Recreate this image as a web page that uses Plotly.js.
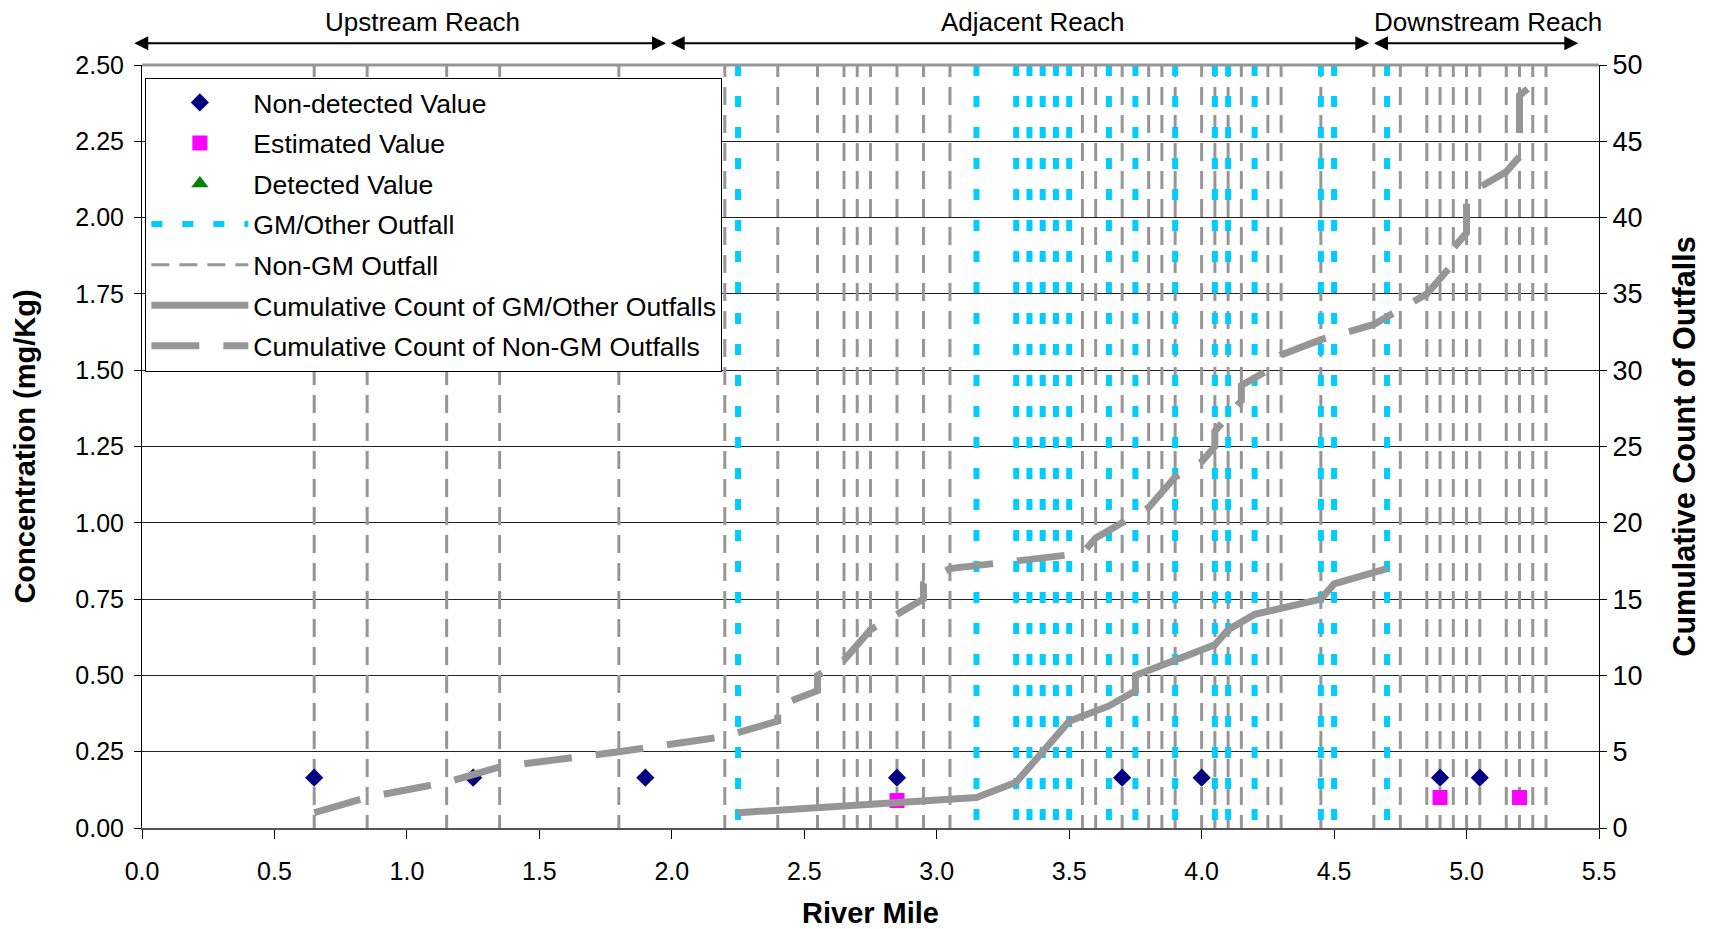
<!DOCTYPE html>
<html>
<head>
<meta charset="utf-8">
<script src="https://cdn.plot.ly/plotly-3.0.1.min.js"></script>
<style>html,body{margin:0;padding:0;background:#fff;}#chart{width:1709px;height:929px;}</style>
</head>
<body>
<div id="chart"></div>
<script>
// ---------------- data ----------------
const nonGmOutfallMiles = [0.65, 0.85, 1.15, 1.35, 1.80, 2.20, 2.40, 2.55, 2.65, 2.70, 2.75, 2.85, 2.95, 3.05,
  3.55, 3.60, 3.70, 3.80, 3.85, 3.90, 4.00, 4.05, 4.10, 4.15, 4.25, 4.30, 4.45, 4.65, 4.75, 4.85, 4.90,
  4.95, 5.00, 5.05, 5.15, 5.20, 5.25, 5.30];
const gmOutfallMiles = [2.25, 3.15, 3.30, 3.35, 3.40, 3.45, 3.50, 3.65, 3.75, 3.90, 4.05, 4.10, 4.20,
  4.45, 4.50, 4.70];

const nonDetectMiles = [0.65, 1.25, 1.90, 2.85, 3.70, 4.00, 4.90, 5.05];
const nonDetectConc = [0.165, 0.165, 0.165, 0.165, 0.165, 0.165, 0.165, 0.165];
const estimatedMiles = [2.85, 4.90, 5.20];
const estimatedConc = [0.09, 0.10, 0.10];
const detectedMiles = [];
const detectedConc = [];

const cumGmMiles = [2.25, 3.15, 3.30, 3.35, 3.40, 3.45, 3.50, 3.65, 3.75, 3.75, 3.90, 4.05, 4.10, 4.20, 4.45, 4.50, 4.70];
const cumGmCount = [1, 2, 3, 4, 5, 6, 7, 8, 9, 10, 11, 12, 13, 14, 15, 16, 17];

const cumNonGmMiles = [0.65, 0.85, 1.15, 1.35, 1.80, 2.20, 2.40, 2.40, 2.55, 2.55, 2.65, 2.70, 2.75, 2.85,
  2.95, 2.95, 3.05, 3.55, 3.60, 3.70, 3.80, 3.85, 3.90, 4.00, 4.05, 4.05, 4.10, 4.15, 4.15, 4.25, 4.30,
  4.45, 4.65, 4.75, 4.85, 4.90, 4.95, 4.95, 5.00, 5.00, 5.00, 5.05, 5.15, 5.20, 5.20, 5.20, 5.20, 5.20, 5.27];
const cumNonGmCount = [1, 2, 3, 4, 5, 6, 7, 8, 9, 10, 11, 12, 13, 14, 15, 16, 17, 18, 19, 20, 21, 22, 23, 24,
  25, 26, 27, 28, 29, 30, 31, 32, 33, 34, 35, 36, 37, 38, 39, 40, 41, 42, 43, 44, 45, 46, 47, 48, 49];

const reachNames = ["Upstream Reach", "Adjacent Reach", "Downstream Reach"];
const reachStart = [-0.035, 1.99, 4.645];
const reachEnd = [1.978, 4.633, 5.422];
const reachLabelAt = [1.06, 3.365, 5.082];

const xTickVals = [0, 0.5, 1, 1.5, 2, 2.5, 3, 3.5, 4, 4.5, 5, 5.5];

// ---------------- build ----------------
const FONT = "Liberation Sans, Arial, Helvetica, sans-serif";
const GRAY = "rgb(150,150,150)";
const CYAN = "rgb(0,204,255)";

function verticals(xs, lo, hi) {
  const x = [], y = [];
  xs.forEach(v => { x.push(v, v, null); y.push(hi, lo, null); });
  return {x, y};
}
const ng = verticals(nonGmOutfallMiles, -0.05, 2.52);
const gm = verticals(gmOutfallMiles, -0.05, 2.5);

const traces = [
  {type: "scatter", mode: "lines", name: "Non-GM Outfall", x: ng.x, y: ng.y,
   line: {color: GRAY, width: 3, dash: "18px,10px"}, legendrank: 5, legendgroup: "g5"},
  {type: "scatter", mode: "lines", name: "GM/Other Outfall", x: gm.x, y: gm.y,
   line: {color: CYAN, width: 6, dash: "11px,20px"}, legendrank: 4, legendgroup: "g4"},
  {type: "scatter", mode: "markers", name: "Non-detected Value", x: nonDetectMiles, y: nonDetectConc,
   marker: {symbol: "diamond", size: 14, color: "rgb(0,0,128)"}, legendrank: 1, legendgroup: "g1"},
  {type: "scatter", mode: "markers", name: "Estimated Value", x: estimatedMiles, y: estimatedConc,
   marker: {symbol: "square", size: 15, color: "rgb(255,0,255)"}, legendrank: 2, legendgroup: "g2"},
  {type: "scatter", mode: "markers", name: "Detected Value",
   x: detectedMiles.length ? detectedMiles : [null], y: detectedConc.length ? detectedConc : [null],
   marker: {symbol: "triangle-up", size: 15, color: "rgb(0,128,0)"}, legendrank: 3, legendgroup: "g3"},
  {type: "scatter", mode: "lines", name: "Cumulative Count of GM/Other Outfalls", x: cumGmMiles, y: cumGmCount,
   yaxis: "y2", line: {color: GRAY, width: 7}, legendrank: 6, legendgroup: "g6"},
  {type: "scatter", mode: "lines", name: "Cumulative Count of Non-GM Outfalls", x: cumNonGmMiles, y: cumNonGmCount,
   yaxis: "y2", line: {color: GRAY, width: 7, dash: "48px,24px"}, legendrank: 7, legendgroup: "g7"}
];

const annotations = [];
reachNames.forEach((name, i) => {
  annotations.push({
    xref: "x", yref: "paper", x: reachEnd[i], y: 1.0286,
    axref: "x", ayref: "pixel", ax: reachStart[i], ay: 0,
    text: "", showarrow: true, arrowside: "end+start",
    arrowhead: 2, startarrowhead: 2, arrowsize: 1.4, startarrowsize: 1.4,
    arrowwidth: 2, arrowcolor: "#000", standoff: 0, startstandoff: 0
  });
  annotations.push({
    xref: "x", yref: "paper", x: reachLabelAt[i], y: 1.057, yanchor: "middle", xanchor: "center",
    text: name, showarrow: false, font: {family: FONT, size: 26, color: "#000"}
  });
});

const layout = {
  width: 1709, height: 929,
  margin: {l: 142, r: 110, t: 65, b: 101},
  paper_bgcolor: "#fff", plot_bgcolor: "#fff",
  font: {family: FONT, color: "#000", size: 25},
  showlegend: true,
  legend: {
    x: 0.0023, y: 0.9835, xanchor: "left", yanchor: "top",
    bgcolor: "#fff", bordercolor: "#000", borderwidth: 1,
    font: {family: FONT, size: 26.6, color: "#000"},
    traceorder: "grouped", tracegroupgap: 3, itemwidth: 97
  },
  xaxis: {
    range: [0, 5.5], tickvals: xTickVals, tickformat: ".1f",
    ticks: "outside", ticklen: 9, tickwidth: 1, tickcolor: "#000", ticklabelstandoff: 11,
    showline: true, linecolor: "#555", linewidth: 2, mirror: false,
    showgrid: false, zeroline: false,
    tickfont: {family: FONT, size: 25, color: "#000"},
    title: {text: "<b>River Mile</b>", font: {family: FONT, size: 29, color: "#000"}, standoff: 20}
  },
  yaxis: {
    range: [0, 2.5], dtick: 0.25, tick0: 0, tickformat: ".2f",
    ticks: "outside", ticklen: 7, tickwidth: 1, tickcolor: "#000", ticklabelstandoff: 5,
    showline: true, linecolor: "#000", linewidth: 1,
    showgrid: true, gridcolor: "#222", gridwidth: 1, zeroline: false,
    tickfont: {family: FONT, size: 25, color: "#000"},
    title: {text: "<b>Concentration (mg/Kg)</b>", font: {family: FONT, size: 29, color: "#000"}, standoff: 31}
  },
  yaxis2: {
    range: [0, 50], dtick: 5, tick0: 0, overlaying: "y", side: "right",
    ticks: "outside", ticklen: 7, tickwidth: 1, tickcolor: "#000",
    showline: true, linecolor: "#000", linewidth: 1,
    showgrid: false, zeroline: false,
    tickfont: {family: FONT, size: 27, color: "#000"},
    title: {text: "<b>Cumulative Count of Outfalls</b>", font: {family: FONT, size: 30.5, color: "#000"}, standoff: 32}
  },
  shapes: [
    {type: "line", xref: "paper", yref: "paper", x0: 0, x1: 1, y0: 1, y1: 1,
     line: {color: GRAY, width: 3}, layer: "above"}
  ],
  annotations: annotations,
  hovermode: false
};

Plotly.newPlot("chart", traces, layout, {displayModeBar: false, staticPlot: true});
</script>
</body>
</html>
